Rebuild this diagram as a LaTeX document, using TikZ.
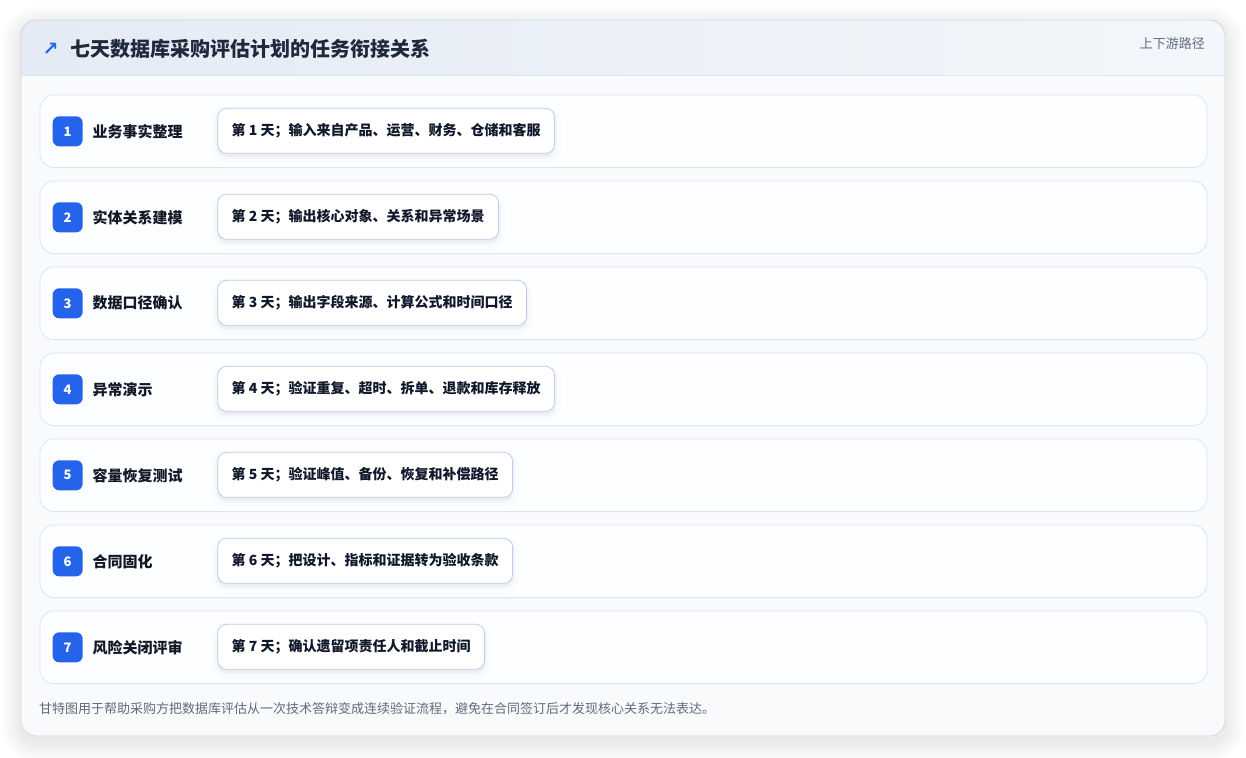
\documentclass[tikz,border=0pt]{standalone}
\usepackage{fontspec}
\setmainfont{Noto Sans CJK SC}
\newfontfamily\symfont{DejaVu Sans}
\definecolor{titlec}{HTML}{1E293B}
\definecolor{labelc}{HTML}{111827}
\definecolor{taskc}{HTML}{0F172A}
\definecolor{mutec}{HTML}{5F6B7D}
\definecolor{badgec}{HTML}{2563EB}
\definecolor{rowline}{HTML}{DCE6F2}
\definecolor{rowfill}{HTML}{FDFEFF}
\definecolor{taskline}{HTML}{BACEEC}
\definecolor{cardbg}{HTML}{F8FAFC}
\definecolor{cardline}{HTML}{D3DAE5}
\definecolor{hdrL}{HTML}{E4EBF5}
\definecolor{hdrR}{HTML}{F3F6FA}
\definecolor{hdrline}{HTML}{DCE5F1}
\tikzset{
  rowbox/.style={draw=rowline, fill=rowfill, line width=0.8pt, rounded corners=14pt},
  badge/.style={fill=badgec, text=white, rounded corners=6.5pt, minimum width=30pt, minimum height=30pt, inner sep=0pt, font=\fontsize{13}{13}\selectfont\bfseries},
  rowlabel/.style={anchor=west, text=labelc, inner sep=0pt, font=\fontsize{15}{15}\selectfont\bfseries},
  taskbox/.style={anchor=west, draw=taskline, fill=white, line width=0.8pt, rounded corners=9pt,
    minimum height=45pt, inner xsep=14pt, inner ysep=0pt, text=taskc, font=\fontsize{14}{14}\selectfont\bfseries,
    preaction={fill=black, fill opacity=0.015, draw=black, draw opacity=0.012, line width=12pt, transform canvas={yshift=-4pt}},
    preaction={fill=black, fill opacity=0.018, draw=black, draw opacity=0.018, line width=5pt, transform canvas={yshift=-3pt}}},
  mutetext/.style={text=mutec, inner sep=0pt, font=\fontsize{13}{13}\selectfont}
}
\begin{document}
\begin{tikzpicture}[x=1pt,y=-1pt]
\useasboundingbox (0,0) rectangle (1246,757);
\fill[white] (0,0) rectangle (1246,757);
% card soft shadow
\foreach \i in {1,...,20}{
  \fill[black, opacity=0.0035, rounded corners=16pt+\i pt] (21-\i,20-\i+6) rectangle (1225+\i,736+\i+6);
}
% card
\fill[cardbg, rounded corners=16pt] (21,20) rectangle (1225,736);
\begin{scope}
  \clip[rounded corners=16pt] (21,20) rectangle (1225,736);
  \fill[left color=hdrL, right color=hdrR] (21,20) rectangle (1225,75);
\end{scope}
\draw[hdrline, line width=0.8pt] (21,75.5) -- (1225,75.5);
\draw[cardline, line width=0.8pt, rounded corners=16pt] (21,20) rectangle (1225,736);
% header
\node[text=badgec, inner sep=0pt, font=\symfont\fontsize{19}{19}\selectfont\bfseries] (icon) at (50.5,49) {↗};
\node[anchor=west, text=titlec, inner sep=0pt, font=\fontsize{20}{20}\selectfont\bfseries] (title) at (70,49) {七天数据库采购评估计划的任务衔接关系};
\node[mutetext, anchor=east] (tag) at (1205,44) {上下游路径};
% rows
\foreach \i/\lab/\task in {
  1/业务事实整理/第 1 天；输入来自产品、运营、财务、仓储和客服,
  2/实体关系建模/第 2 天；输出核心对象、关系和异常场景,
  3/数据口径确认/第 3 天；输出字段来源、计算公式和时间口径,
  4/异常演示/第 4 天；验证重复、超时、拆单、退款和库存释放,
  5/容量恢复测试/第 5 天；验证峰值、备份、恢复和补偿路径,
  6/合同固化/第 6 天；把设计、指标和证据转为验收条款,
  7/风险关闭评审/第 7 天；确认遗留项责任人和截止时间}{
  \pgfmathsetmacro{\top}{95+86*(\i-1)}
  \pgfmathsetmacro{\mid}{\top+36.3}
  \draw[rowbox] (40,\top) rectangle (1207,\top+72.6);
  \node[badge] (b\i) at (67.7,\mid) {\i};
  \node[rowlabel] (l\i) at (92.3,\mid) {\lab};
  \node[taskbox] (t\i) at (217.3,\mid-0.5) {\task};
}
% footer
\node[mutetext, anchor=west] (foot) at (39,709) {甘特图用于帮助采购方把数据库评估从一次技术答辩变成连续验证流程，避免在合同签订后才发现核心关系无法表达。};
\end{tikzpicture}
\end{document}
